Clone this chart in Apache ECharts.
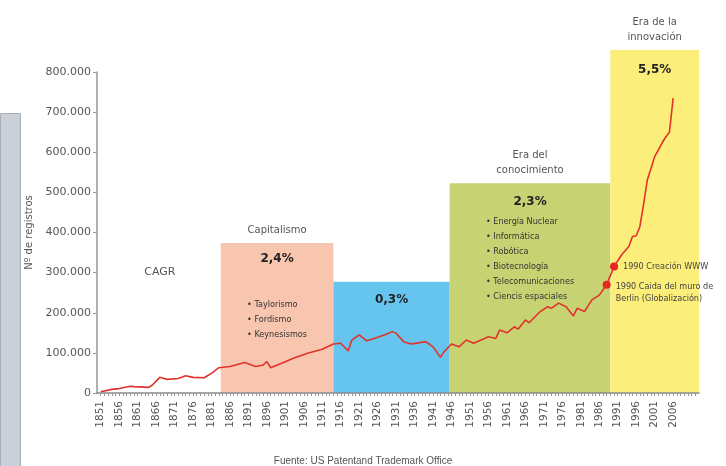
<!DOCTYPE html>
<html>
<head>
<meta charset="utf-8">
<script src="https://cdn.jsdelivr.net/npm/echarts@6/dist/echarts.min.js"></script>
<style>
  html, body { margin: 0; background: #fff; }
  #chart { width: 726px; height: 466px; }
</style>
</head>
<body>
<div id="chart"></div>
<script>
// registros por año
const years = [1851, 1854, 1856, 1859, 1860, 1864, 1865, 1867, 1869, 1872, 1874, 1876, 1879, 1881, 1883,
  1886, 1890, 1893, 1895, 1896, 1897, 1900, 1903, 1907, 1911, 1914, 1916, 1918, 1919, 1921, 1923, 1925,
  1928, 1930, 1931, 1933, 1935, 1937, 1939, 1941, 1943, 1944, 1946, 1948, 1950, 1952, 1954, 1956, 1958,
  1959, 1961, 1963, 1964, 1966, 1967, 1970, 1972, 1973, 1975, 1977, 1979, 1980, 1982, 1984, 1986, 1988,
  1990, 1992, 1994, 1995, 1996, 1997, 1998, 1999, 2001, 2003, 2004, 2005, 2006]
const registros = [3000, 9000, 11000, 17000, 16000, 14000, 20000, 39000, 34000, 36000, 43000, 39000, 38000, 49000, 63000,
  66000, 76000, 66000, 70000, 78000, 63000, 74000, 86000, 99000, 109000, 122000, 124000, 105000, 132000, 145000, 130000, 136000,
  145000, 153000, 149000, 128000, 122000, 125000, 128000, 115000, 89000, 103000, 122000, 115000, 132000, 124000, 132000, 140000, 136000,
  157000, 150000, 165000, 159000, 182000, 175000, 203000, 215000, 211000, 224000, 215000, 192000, 211000, 203000, 232000, 244000, 270000,
  315000, 344000, 365000, 390000, 392000, 415000, 470000, 531000, 589000, 623000, 638000, 650000, 735000]

const tickYears = [1851, 1856, 1861, 1866, 1871, 1876, 1881, 1886, 1891, 1896, 1901, 1906, 1911, 1916, 1921, 1926,
  1931, 1936, 1941, 1946, 1951, 1956, 1961, 1966, 1971, 1976, 1981, 1986, 1991, 1996, 2001, 2006]

// eras (cajas de fondo)
const eraTitles = ['Capitalismo', '', 'Era del\nconocimiento', 'Era de la\ninnovación']
const eraRates = ['2,4%', '0,3%', '2,3%', '5,5%']
const eraBullets = [
  ['Taylorismo', 'Fordismo', 'Keynesismos'],
  [],
  ['Energía Nuclear', 'Informática', 'Robótica', 'Biotecnología', 'Telecomunicaciones', 'Ciencis espaciales'],
  []
]
const eraFrom = [1883.5, 1914, 1945.5, 1989]
const eraTo = [1914, 1945.5, 1989, 2013]
const eraTop = [374000, 277000, 523000, 855000]

// hitos
const hitoYears = [1990, 1988]
const hitoValues = [315000, 270000]
const hitoTexts = ['1990 Creación WWW', '1990 Caida del muro de\nBerlin (Globalización)']

const eraColors = ['#F8C5AF', '#66C5EE', '#C7D373', '#FCEE7A']
const eraGap = [30, 0, 4, 0]
const eraDist = [8, 10, 11, 12]

const yearTicks = []
for (let y = 1851; y <= 2012; y++) yearTicks.push(y)

const chart = echarts.init(document.getElementById('chart'))

const titleAreas = []
const contentAreas = []
eraFrom.forEach((from, i) => {
  titleAreas.push([
    {
      xAxis: from, yAxis: 0,
      itemStyle: { color: eraColors[i] },
      label: {
        show: eraTitles[i] !== '', position: 'top', distance: 5,
        formatter: eraTitles[i], color: '#555', fontSize: 10, lineHeight: 15
      }
    },
    { xAxis: eraTo[i], yAxis: eraTop[i] }
  ])
  let txt = '{p|' + eraRates[i] + '}'
  if (eraBullets[i].length) {
    txt += '\n{g' + i + '|}\n' + eraBullets[i].map(b => '{b|• ' + b + '}').join('\n')
  }
  const rich = {
    p: { fontSize: 12, fontWeight: 'bold', color: '#222', align: 'center', lineHeight: 16 },
    b: { fontSize: 9, color: '#333', align: 'left', lineHeight: 15,
      fontFamily: "'DejaVu Sans Condensed', 'Liberation Sans Narrow', sans-serif" }
  }
  rich['g' + i] = { lineHeight: eraGap[i], height: eraGap[i] }
  contentAreas.push([
    {
      xAxis: from, yAxis: 0,
      itemStyle: { color: 'rgba(0,0,0,0)' },
      label: { show: true, position: 'insideTop', distance: eraDist[i], formatter: txt, rich: rich }
    },
    { xAxis: eraTo[i], yAxis: eraTop[i] }
  ])
})

const hitos = hitoYears.map((y, i) => ({
  coord: [y, hitoValues[i]],
  symbol: 'circle',
  symbolSize: 8,
  itemStyle: { color: '#E3231C' },
  label: {
    show: true, position: 'right', distance: 5, offset: [0, i === 1 ? 8 : 0],
    formatter: hitoTexts[i], color: '#444', fontSize: 9, lineHeight: 12, align: 'left',
    fontFamily: "'DejaVu Sans Condensed', 'Liberation Sans Narrow', sans-serif"
  }
}))
hitos.push({
  coord: [1867, 301000],
  symbol: 'circle',
  symbolSize: 1,
  itemStyle: { color: 'rgba(0,0,0,0)' },
  label: { show: true, position: 'inside', formatter: 'CAGR', color: '#555', fontSize: 11 }
})

const option = {
  animation: false,
  textStyle: { fontFamily: "'DejaVu Sans', sans-serif" },
  grid: [
    { left: 97, right: 27, top: 72, bottom: 73 },
    { left: 97, right: 27, top: 11.8, bottom: 73 }
  ],
  xAxis: [
    {
      type: 'value', gridIndex: 0, min: 1850, max: 2013, z: 4,
      splitLine: { show: false },
      axisLine: { lineStyle: { color: '#8a8a8a', width: 1.5 } },
      axisTick: { customValues: yearTicks, length: 3, lineStyle: { color: '#9a9a9a' } },
      axisLabel: {
        customValues: tickYears, rotate: 90, margin: 8, color: '#555', fontSize: 10.5,
        formatter: v => String(v)
      }
    },
    { type: 'value', gridIndex: 1, min: 1850, max: 2013, show: false }
  ],
  yAxis: [
    {
      type: 'value', gridIndex: 0, min: 0, max: 800000, interval: 100000,
      name: 'Nº de registros', nameLocation: 'middle', nameGap: 60, nameRotate: 90,
      nameTextStyle: { color: '#555', fontSize: 10 },
      splitLine: { show: false },
      axisLine: { show: true, lineStyle: { color: '#999', width: 1.5 } },
      axisTick: { show: true, length: 4, lineStyle: { color: '#999' } },
      axisLabel: {
        color: '#555', fontSize: 11, margin: 6,
        formatter: v => (v === 0 ? '0' : v / 1000 + '.000')
      }
    },
    { type: 'value', gridIndex: 1, min: 0, max: 950000, show: false }
  ],
  series: [
    {
      // cajas de color con título
      type: 'line', xAxisIndex: 1, yAxisIndex: 1, data: [], z: 1,
      markArea: { silent: true, data: titleAreas }
    },
    {
      // textos dentro de las cajas
      type: 'line', xAxisIndex: 1, yAxisIndex: 1, data: [], z: 2,
      markArea: { silent: true, data: contentAreas }
    },
    {
      name: 'registros',
      type: 'line', xAxisIndex: 0, yAxisIndex: 0, z: 5,
      data: years.map((y, i) => [y, registros[i]]),
      showSymbol: false,
      lineStyle: { color: '#E0332B', width: 1.6 },
      markPoint: { silent: true, data: hitos }
    }
  ],
  graphic: [
    {
      type: 'rect', left: 0, top: 113, z: 0,
      shape: { width: 20, height: 353 },
      style: { fill: '#CBD0D8', stroke: '#A8AEB8', lineWidth: 1 }
    },
    {
      type: 'text', left: 'center', top: 456,
      style: { text: 'Fuente: US Patentand Trademark Office', fill: '#555', fontSize: 10 }
    }
  ]
}

chart.setOption(option)
</script>
</body>
</html>
